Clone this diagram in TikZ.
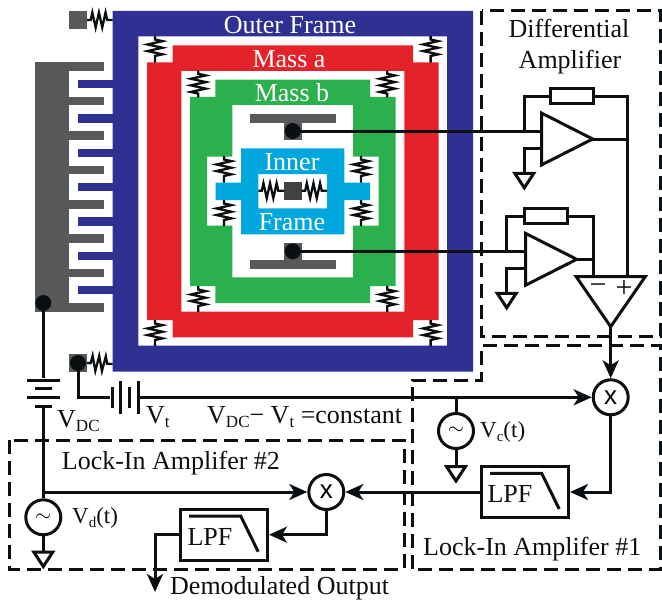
\documentclass[tikz,border=0pt]{standalone}
\usepackage{fontspec}
\setmainfont{Liberation Serif}
\setsansfont{Liberation Sans}
\usetikzlibrary{positioning,shapes,arrows.meta,decorations.pathmorphing}
\definecolor{outerblue}{HTML}{2E3192}
\definecolor{massred}{HTML}{E32329}
\definecolor{massgreen}{HTML}{2AB04C}
\definecolor{innercyan}{HTML}{00A7DE}
\definecolor{combgray}{HTML}{58595B}
\definecolor{padgray}{HTML}{414042}
\definecolor{inkblack}{HTML}{0B0F12}
\newcommand{\subtxt}[1]{\raisebox{-3.5pt}{\fontsize{17}{17}\selectfont #1}}
\newcommand{\subsmall}[1]{\raisebox{-3.5pt}{\fontsize{15}{15}\selectfont #1}}
\tikzset{
  lbl/.style={font=\fontsize{26}{28}\selectfont, inner sep=0pt, text=inkblack},
  srclbl/.style={font=\fontsize{23}{25}\selectfont, inner sep=0pt, text=inkblack},
  whitelbl/.style={lbl, text=white},
  wire/.style={line width=3pt, draw=inkblack},
  arrowwire/.style={wire, -{Stealth[length=18pt,width=16pt,inset=5pt]}},
  dashbox/.style={line width=3pt, draw=inkblack, dash pattern=on 14pt off 7pt},
  spring/.style={line width=2.3pt, draw=inkblack, decorate, decoration={zigzag,amplitude=7.5pt,segment length=6.6pt,pre length=3.5pt,post length=3.5pt}},
  dot/.style={circle, fill=inkblack, minimum size=16pt, inner sep=0pt},
  padbox/.style={rectangle, fill=combgray, minimum size=18pt, inner sep=0pt},
  srcbox/.style={draw=inkblack, line width=3pt, circle, minimum size=35pt, inner sep=0pt, font=\fontsize{20}{20}\selectfont},
  mixbox/.style={draw=inkblack, line width=3pt, circle, minimum size=35pt, inner sep=0pt, font=\sffamily\fontsize{26}{26}\selectfont},
  lpfbox/.style={draw=inkblack, line width=3pt, rectangle, minimum width=87pt, minimum height=51pt, inner sep=0pt},
  resbox/.style={wire, fill=white, rectangle, minimum width=43pt, minimum height=15pt, inner sep=0pt},
  opamp/.style={wire, isosceles triangle, isosceles triangle stretches, minimum width=51.7pt, minimum height=51pt, inner sep=0pt, outer sep=0pt, anchor=apex},
  gnd/.style={wire, isosceles triangle, isosceles triangle stretches, shape border rotate=270, minimum width=19pt, minimum height=14.5pt, inner sep=0pt, outer sep=0pt, anchor=lower side},
  longplate/.style={rectangle, fill=inkblack, minimum width=33.5pt, minimum height=3pt, inner sep=0pt},
  shortplate/.style={rectangle, fill=inkblack, minimum width=17pt, minimum height=3pt, inner sep=0pt},
  tallplate/.style={rectangle, fill=inkblack, minimum width=3pt, minimum height=33.5pt, inner sep=0pt},
  lowplate/.style={rectangle, fill=inkblack, minimum width=3pt, minimum height=21pt, inner sep=0pt}
}
\begin{document}
\begin{tikzpicture}[x=1pt,y=-1pt]
  \useasboundingbox (0,0) rectangle (662,602);

  \fill[outerblue,even odd rule] (112.7,11) rectangle (473,371.7) (138.3,36.3) rectangle (447,345.7);
  \fill[massred,even odd rule] (172.7,45.3) -- (413,45.3) -- (413,62.3) -- (438.6,62.3) -- (438.6,320) -- (413,320) -- (413,337.3) -- (172.7,337.3) -- (172.7,320) -- (147,320) -- (147,62.3) -- (172.7,62.3) -- cycle (181.3,71) rectangle (404.3,311.7);
  \fill[massgreen,even odd rule] (215.3,79.7) -- (370,79.7) -- (370,97) -- (395.6,97) -- (395.6,286) -- (370,286) -- (370,303) -- (215.3,303) -- (215.3,286) -- (190,286) -- (190,97) -- (215.3,97) -- cycle (232.3,105) -- (353,105) -- (353,156.7) -- (378.7,156.7) -- (378.7,225.7) -- (353,225.7) -- (353,277.3) -- (232.3,277.3) -- (232.3,225.7) -- (207,225.7) -- (207,156.7) -- (232.3,156.7) -- cycle;
  \fill[innercyan,even odd rule] (241,148.3) -- (344.3,148.3) -- (344.3,182.7) -- (370,182.7) -- (370,200) -- (344.3,200) -- (344.3,234.3) -- (241,234.3) -- (241,200) -- (215.7,200) -- (215.7,182.7) -- (241,182.7) -- cycle (258.3,174) rectangle (327,208.3);
  \fill[padgray] (284,181.7) rectangle (301.7,199.7);

  \fill[combgray] (35,62.3) rectangle (69.3,311.7);
  \foreach \y in {62.3,96.7,131,165.5,200,234.3,268.7,303}
    \fill[combgray] (69,\y) rectangle (103.7,\y+8.7);
  \foreach \y in {79.7,114.1,148.5,182.9,217.3,251.6,285.8}
    \fill[outerblue] (78,\y) rectangle (113,\y+8.5);

  \fill[combgray] (249.7,114) rectangle (335.7,122.7);
  \fill[combgray] (284,122) rectangle (301.7,139.7);
  \fill[combgray] (249.7,260.3) rectangle (335.7,268.7);
  \fill[combgray] (284,243) rectangle (301.7,261);

  \foreach \x in {155,430.6}{
    \draw[spring] (\x,36) -- (\x,62.7);
    \draw[spring] (\x,320) -- (\x,346);
  }
  \foreach \x in {198.3,387.3}{
    \draw[spring] (\x,70.3) -- (\x,97.3);
    \draw[spring] (\x,286) -- (\x,312);
  }
  \foreach \x in {224,361}{
    \draw[spring] (\x,156) -- (\x,182.7);
    \draw[spring] (\x,200) -- (\x,226);
  }
  \draw[spring] (258.3,190.7) -- (284,190.7);
  \draw[spring] (301.7,190.7) -- (327,190.7);

  \node[whitelbl] (outerlabel) at (290,25) {Outer Frame};
  \node[whitelbl] (massalabel) at (289,59) {Mass a};
  \node[whitelbl] (massblabel) at (292,93) {Mass b};
  \node[whitelbl] (innerlabel) at (292,162) {Inner};
  \node[whitelbl] (framelabel) at (292,222) {Frame};

  \node[padbox] (padtop) at (78,20) {};
  \node[padbox] (padbot) at (78,363) {};
  \coordinate (frametop) at (112.7,20);
  \coordinate (framebot) at (112.7,364);
  \draw[spring] (padtop.east) -- (frametop);
  \draw[spring] (padbot.east) -- (framebot);

  \node[dot] (dotcomb) at (43.3,303) {};
  \node[dot] (dotpad) at (78,363) {};
  \node[dot] (dottop) at (292.7,131) {};
  \node[dot] (dotbot) at (292.7,251.3) {};

  \node[lbl] (difflabel) at (569,28) {Differential};
  \node[lbl] (amplabel) at (570,62) {Amplifier};

  \node[opamp] (opa) at (592.7,139) {};
  \node[opamp] (opb) at (576.7,259.3) {};
  \node[wire, isosceles triangle, isosceles triangle stretches, shape border rotate=270, minimum width=69pt, minimum height=50pt, inner sep=0pt, outer sep=0pt, anchor=apex] (inamp) at (610.7,326.7) {};
  \node[resbox] (resa) at (571.7,96.4) {};
  \node[resbox] (resb) at (546.3,216.4) {};
  \coordinate (fba) at (524.3,131);
  \coordinate (fbb) at (506.7,250.7);
  \coordinate (inplus) at (627.3,276.7);
  \coordinate (inminus) at (593.3,276.7);
  \coordinate (gndina) at (541.7,148.3);
  \coordinate (gndinb) at (524.3,268.3);
  \node[gnd] (gnda) at (524.3,173.3) {};
  \node[gnd] (gndb) at (506.7,293.3) {};
  \draw[wire] (dottop.center) -- (dottop -| opa.lower side);
  \draw[wire] (dotbot.center) -- (dotbot -| opb.lower side);
  \draw[wire] (fba) |- (resa.west);
  \draw[wire] (fbb) |- (resb.west);
  \draw[wire] (resa.east) -| (inplus);
  \draw[wire] (resb.east) -| (inminus);
  \draw[wire] (opa.apex) -- (opa.apex -| inplus);
  \draw[wire] (opb.apex) -- (opb.apex -| inminus);
  \draw[wire] (gndina) -| (gnda.lower side);
  \draw[wire] (gndinb) -| (gndb.lower side);
  \node[font=\fontsize{30}{30}\selectfont, inner sep=0pt, text=inkblack] (minuslabel) at (598,289) {−};
  \node[font=\fontsize{30}{30}\selectfont, inner sep=0pt, text=inkblack] (pluslabel) at (624,289) {+};

  \node[mixbox] (mixa) at (610.7,397.3) {x};
  \node[mixbox] (mixb) at (326.3,492) {x};
  \node[srcbox] (vsc) at (456,431) {$\sim$};
  \node[srcbox] (vsd) at (43.3,517.3) {$\sim$};
  \node[gnd] (gndc) at (456,466.5) {};
  \node[gnd] (gndd) at (43.3,552) {};
  \node[lpfbox] (lpfa) at (525,492) {};
  \node[lpfbox] (lpfb) at (224,534.7) {};
  \node[lbl] (lpfatext) at (510,494) {LPF};
  \node[lbl] (lpfbtext) at (210,537) {LPF};
  \foreach \lpf in {lpfa,lpfb}
    \draw[wire] ([shift={(-35,-18.7)}]\lpf.center) -- ++(51.7,0) -- ++(17.5,35.7);

  \node[longplate] (plate1) at (43.3,380) {};
  \node[shortplate] (plate2) at (43.3,388.5) {};
  \node[longplate] (plate3) at (43.3,397.3) {};
  \node[shortplate] (plate4) at (43.3,406) {};
  \node[lowplate] (plate5) at (112,397.3) {};
  \node[tallplate] (plate6) at (120.7,397.3) {};
  \node[lowplate] (plate7) at (129.3,397.3) {};
  \node[tallplate] (plate8) at (138.3,397.3) {};

  \coordinate (jund) at (43.3,492);
  \coordinate (outend) at (155,592);
  \draw[wire] (dotcomb.center) -- (plate1.north);
  \draw[wire] (plate4.south) -- (vsd.north);
  \draw[wire] (dotpad.center) |- (plate5.west);
  \draw[arrowwire] (plate8.east) -- (mixa.west);
  \draw[wire] (vsc.north) -- (vsc.north |- mixa.west);
  \draw[wire] (vsc.south) -- (gndc.lower side);
  \draw[wire] (vsd.south) -- (gndd.lower side);
  \draw[arrowwire] (jund) -- (mixb.west);
  \draw[arrowwire] (inamp.apex) -- (mixa.north);
  \draw[arrowwire] (mixa.south) |- (lpfa.east);
  \draw[arrowwire] (lpfa.west) -- (mixb.east);
  \draw[arrowwire] (mixb.south) |- (lpfb.east);
  \draw[arrowwire] (lpfb.west) -| (outend);

  \node[lbl, anchor=west] (vdclabel) at (57,421) {V\subtxt{DC}};
  \node[lbl, anchor=west] (vtlabel) at (146,417) {V\subtxt{t}};
  \node[lbl, anchor=west] (difflbl) at (207,417) {V\subtxt{DC}− V\subtxt{t} =constant};
  \node[srclbl, anchor=west] (vdlabel) at (72,518) {V\subsmall{d}(t)};
  \node[srclbl, anchor=west] (vclabel) at (480,432) {V\subsmall{c}(t)};
  \node[lbl, anchor=west] (locklabelb) at (61.7,463) {Lock-In Amplifer \#2};
  \node[lbl, anchor=west] (locklabela) at (423,549) {Lock-In Amplifer \#1};
  \node[lbl, anchor=west] (outlabel) at (170,588) {Demodulated Output};

  \draw[dashbox] (481.7,11) rectangle (660.7,336.7);
  \draw[dashbox] (9.3,440) rectangle (404,569.3);
  \draw[dashbox] (412.7,569.3) -- (412.7,380) -- (481.7,380) -- (481.7,345.7) -- (660.7,345.7) -- (660.7,569.3) -- cycle;
\end{tikzpicture}
\end{document}
